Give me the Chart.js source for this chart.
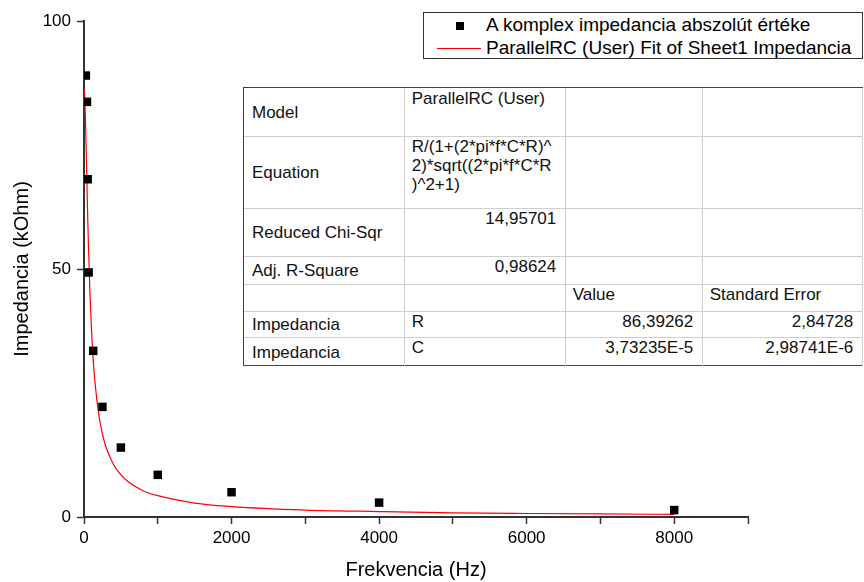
<!DOCTYPE html>
<html lang="hu">
<head>
    <meta charset="UTF-8">
    <title>Impedancia - Frekvencia</title>
    <script src="https://cdn.jsdelivr.net/npm/chart.js"></script>
    <style>
        html, body {
            margin: 0;
            padding: 0;
            background: #ffffff;
        }

        .wrap {
            position: relative;
            width: 864px;
            height: 582px;
            font-family: 'Liberation Sans', Arial, sans-serif;
            color: #000;
        }

        .wrap canvas {
            position: absolute;
            left: 0;
            top: 0;
        }

        .legend {
            position: absolute;
            left: 423px;
            top: 12px;
            width: 440px;
            height: 47px;
            box-sizing: border-box;
            border: 1px solid #333;
            background: #fff;
            font-size: 19px;
        }

        .legend-row {
            position: absolute;
            left: 62px;
            line-height: 22px;
            white-space: nowrap;
        }

        .legend-mark {
            position: absolute;
            left: 32px;
            top: 9px;
            width: 8px;
            height: 8px;
            background: #000;
        }

        .legend-line {
            position: absolute;
            left: 13px;
            top: 35px;
            width: 44px;
            height: 0;
            border-top: 1.2px solid #ff0000;
        }

        .fit-table {
            position: absolute;
            box-sizing: border-box;
            border-top: 1.5px solid #444;
            border-left: 1.5px solid #444;
            border-bottom: 1.5px solid #444;
            background: #fff;
        }

        .cell {
            position: absolute;
            box-sizing: border-box;
            border-right: 1.5px solid #cfcfcf;
            border-bottom: 1.5px solid #cfcfcf;
            font-size: 17px;
            line-height: 19px;
            color: #111;
            padding: 1px 9px 0 8px;
            white-space: nowrap;
            overflow: hidden;
        }

        .cell.label {
            display: flex;
            align-items: center;
        }

        .cell.num {
            text-align: right;
        }
    </style>
</head>
<body>
    <div class="wrap" id="wrap">
        <canvas id="impChart" width="864" height="582"></canvas>

        <div class="legend">
            <div class="legend-mark"></div>
            <div class="legend-row" style="top: 1px;">A komplex impedancia abszolút értéke</div>
            <div class="legend-line"></div>
            <div class="legend-row" style="top: 24px;">ParallelRC (User) Fit of Sheet1 Impedancia</div>
        </div>

        <div class="fit-table" id="fitTable"></div>
    </div>

    <script>
        // measured points (Hz, kOhm)
        const freqHz = [25, 40, 50, 62.5, 125, 250, 500, 1000, 2000, 4000, 8000];
        const impedance = [89.0, 83.7, 68.1, 49.3, 33.5, 22.2, 14.0, 8.5, 5.0, 2.9, 1.4];

        // fitted curve
        const fitFreq = [0, 10, 20, 30, 40, 50, 60, 80, 100, 125, 150, 200, 250, 300, 400, 500,
                         600, 800, 1000, 1500, 2000, 3000, 4000, 5000, 6000, 7000, 8000];
        const fitImpedance = [86.4, 84.7, 80.1, 73.8, 67.1, 60.7, 54.9, 45.4, 38.2, 31.7, 27.0, 20.7,
                              16.7, 14.0, 10.6, 8.5, 7.1, 5.3, 4.3, 2.8, 2.1, 1.4, 1.1, 0.85, 0.71, 0.61, 0.53];

        const xTicks = [0, 2000, 4000, 6000, 8000];
        const yTicks = [0, 50, 100];

        const seriesNames = ['A komplex impedancia abszolút értéke', 'ParallelRC (User) Fit of Sheet1 Impedancia'];

        // fit result table
        const tableRowsText = [
            ['Model', 'ParallelRC (User)', '', ''],
            ['Equation', 'R/(1+(2*pi*f*C*R)^\n2)*sqrt((2*pi*f*C*R\n)^2+1)', '', ''],
            ['Reduced Chi-Sqr', '14,95701', '', ''],
            ['Adj. R-Square', '0,98624', '', ''],
            ['', '', 'Value', 'Standard Error'],
            ['Impedancia', 'R', '86,39262', '2,84728'],
            ['Impedancia', 'C', '3,73235E-5', '2,98741E-6']
        ];

        // table geometry (page pixels)
        const colEdges = [243, 405, 566, 703, 863];
        const rowEdges = [87, 137, 209, 257, 285, 312, 338, 366];

        function buildTable() {
            const box = document.getElementById('fitTable');
            box.style.left = colEdges[0] + 'px';
            box.style.top = rowEdges[0] + 'px';
            box.style.width = (colEdges[colEdges.length - 1] - colEdges[0]) + 'px';
            box.style.height = (rowEdges[rowEdges.length - 1] - rowEdges[0]) + 'px';

            const ox = colEdges[0] + 1.5;
            const oy = rowEdges[0] + 1.5;

            tableRowsText.forEach((row, r) => {
                row.forEach((txt, c) => {
                    const cell = document.createElement('div');
                    cell.className = 'cell';
                    if (c === 0) cell.classList.add('label');
                    const isNum = /^[0-9]/.test(txt);
                    if (isNum) cell.classList.add('num');
                    const x0 = c === 0 ? ox : colEdges[c] - 0.75;
                    const y0 = r === 0 ? oy : rowEdges[r] - 0.75;
                    cell.style.left = (x0 - colEdges[0] - 1.5) + 'px';
                    cell.style.top = (y0 - rowEdges[0] - 1.5) + 'px';
                    cell.style.width = (colEdges[c + 1] - x0 + 0.75) + 'px';
                    cell.style.height = (rowEdges[r + 1] - y0 + 0.75) + 'px';
                    if (r === tableRowsText.length - 1) cell.style.borderBottom = 'none';
                    txt.split('\n').forEach((line, i) => {
                        if (i > 0) cell.appendChild(document.createElement('br'));
                        cell.appendChild(document.createTextNode(line));
                    });
                    box.appendChild(cell);
                });
            });
        }

        buildTable();

        const fontFamily = "'Liberation Sans', Arial, sans-serif";
        const axisColor = '#333';

        // short minor ticks on the y axis (25, 75)
        const minorYTicks = {
            id: 'minorYTicks',
            afterDraw(chart) {
                const y = chart.scales.y;
                const c = chart.ctx;
                c.save();
                c.strokeStyle = axisColor;
                c.lineWidth = 1.5;
                y.ticks.forEach(t => {
                    if (yTicks.includes(t.value)) return;
                    const py = Math.round(y.getPixelForValue(t.value)) + 0.5;
                    c.beginPath();
                    c.moveTo(y.right, py);
                    c.lineTo(y.right - 4, py);
                    c.stroke();
                });
                c.restore();
            }
        };

        const ctx = document.getElementById('impChart').getContext('2d');

        new Chart(ctx, {
            type: 'scatter',
            data: {
                datasets: [
                    {
                        label: seriesNames[0],
                        data: freqHz.map((f, i) => ({ x: f, y: impedance[i] })),
                        pointStyle: 'rect',
                        pointRadius: 6,
                        pointBackgroundColor: '#000',
                        pointBorderWidth: 0,
                        showLine: false
                    },
                    {
                        label: seriesNames[1],
                        data: fitFreq.map((f, i) => ({ x: f, y: fitImpedance[i] })),
                        showLine: true,
                        borderColor: '#ff0000',
                        borderWidth: 1.2,
                        pointRadius: 0,
                        cubicInterpolationMode: 'monotone',
                        fill: false
                    }
                ]
            },
            options: {
                responsive: false,
                animation: false,
                devicePixelRatio: 1,
                layout: {
                    padding: { top: 21, right: 116, bottom: 0, left: 0 }
                },
                plugins: {
                    legend: { display: false },
                    tooltip: { enabled: false }
                },
                scales: {
                    x: {
                        type: 'linear',
                        min: 0,
                        max: 9000,
                        afterFit: scale => { scale.height = 65; },
                        ticks: {
                            stepSize: 1000,
                            autoSkip: false,
                            maxRotation: 0,
                            padding: 4,
                            color: '#000',
                            font: { family: fontFamily, size: 17 },
                            callback: v => xTicks.includes(v) ? String(v) : ''
                        },
                        grid: {
                            drawOnChartArea: false,
                            drawTicks: true,
                            tickLength: 7,
                            tickColor: axisColor,
                            tickWidth: 1.5
                        },
                        border: { display: true, color: axisColor, width: 2 },
                        title: {
                            display: true,
                            text: 'Frekvencia (Hz)',
                            color: '#000',
                            font: { family: fontFamily, size: 20 },
                            padding: { top: 0, bottom: 0 }
                        }
                    },
                    y: {
                        type: 'linear',
                        min: 0,
                        max: 100,
                        afterFit: scale => { scale.width = 84; },
                        ticks: {
                            stepSize: 25,
                            autoSkip: false,
                            padding: 6,
                            color: '#000',
                            font: { family: fontFamily, size: 17 },
                            callback: v => yTicks.includes(v) ? String(v) : ''
                        },
                        grid: {
                            drawOnChartArea: false,
                            drawTicks: true,
                            tickLength: 7,
                            tickColor: c => yTicks.includes(c.tick && c.tick.value) ? axisColor : 'rgba(0,0,0,0)',
                            tickWidth: 1.5
                        },
                        border: { display: true, color: axisColor, width: 2 },
                        title: {
                            display: true,
                            text: 'Impedancia (kOhm)',
                            color: '#000',
                            font: { family: fontFamily, size: 20 },
                            padding: { top: 10, bottom: 0 }
                        }
                    }
                }
            }
        },);
    </script>
</body>
</html>
